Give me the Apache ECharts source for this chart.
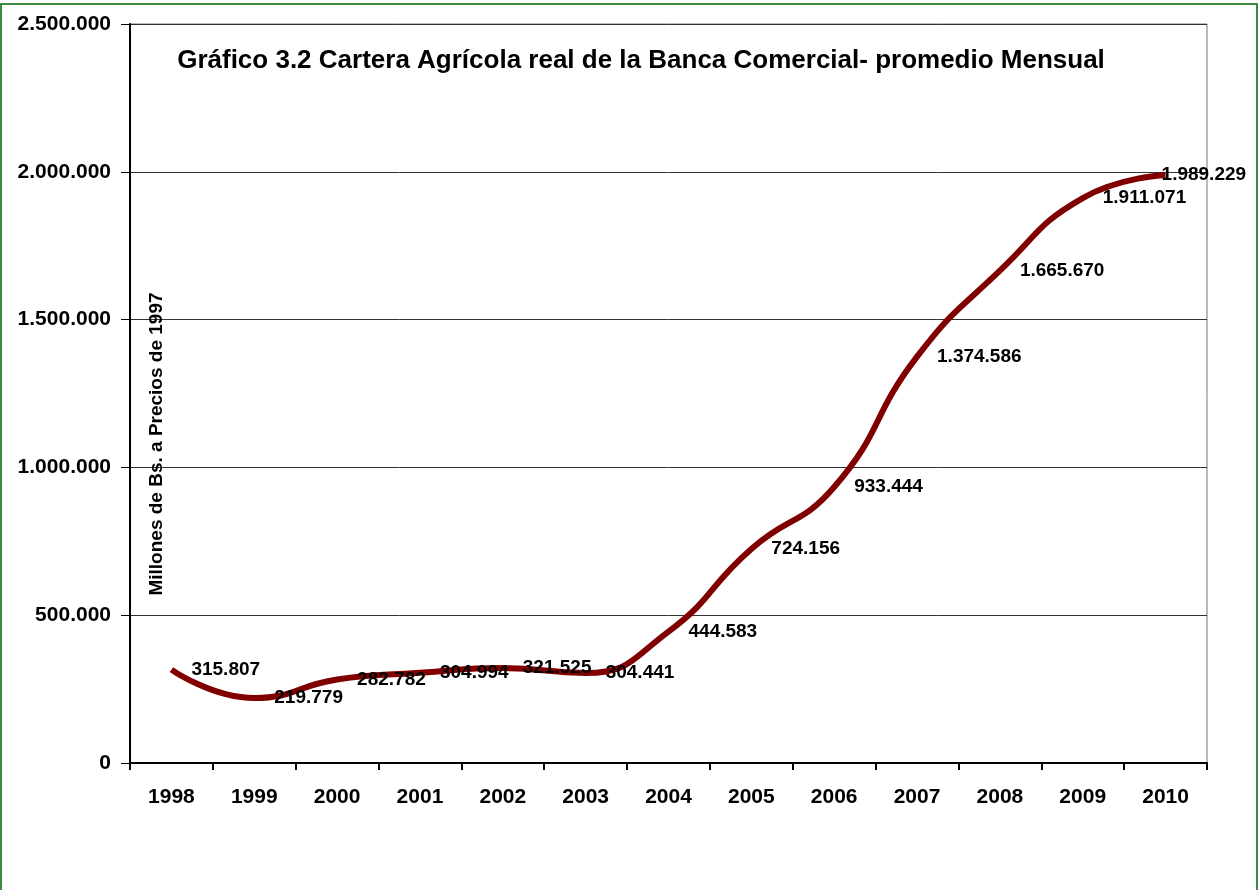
<!DOCTYPE html>
<html>
<head>
<meta charset="utf-8">
<title>Cartera Agrícola real</title>
<script src="https://cdn.jsdelivr.net/npm/echarts@6/dist/echarts.min.js"></script>
<style>
html, body { margin:0; padding:0; background:#fff; }
#chart { width:1258px; height:890px; }
</style>
</head>
<body>
<div id="chart"></div>
<script>
"use strict";
// años y cartera (miles de Bs. a precios de 1997)
var years = ['1998','1999','2000','2001','2002','2003','2004','2005','2006','2007','2008','2009','2010'];
var cartera = [315807, 219779, 282782, 304994, 321525, 304441, 444583, 724156, 933444, 1374586, 1665670, 1911071, 1989229];
var yTicks = [0, 500000, 1000000, 1500000, 2000000, 2500000];

var FONT = "'Liberation Sans', Arial, sans-serif";

function puntos(v){
	return String(v).replace(/\B(?=(\d{3})+(?!\d))/g, '.');
}

var serieData = cartera.map(function(v, i){
	var d = { value: v };
	// Excel empuja la última etiqueta dentro del área del gráfico
	if(i == cartera.length - 1) d.label = { offset: [-24, 0] };
	return d;
});

var option = {
	backgroundColor: '#fff',
	animation: false,
	grid: { left: 130, right: 51, top: 24, bottom: 127, show: true, borderColor: '#777', borderWidth: 1 },
	xAxis: [{
		type: 'category', data: years, boundaryGap: true,
		axisLine: { lineStyle: { color: '#000', width: 2 } },
		axisTick: { show: true, length: 7, alignWithLabel: false, lineStyle: { color: '#000', width: 2 } },
		axisLabel: { color: '#000', fontFamily: FONT, fontWeight: 'bold', fontSize: 21, margin: 24 },
		splitLine: { show: false }
	}],
	yAxis: [{
		type: 'value', min: yTicks[0], max: yTicks[yTicks.length-1], interval: yTicks[1] - yTicks[0],
		axisLine: { show: true, lineStyle: { color: '#000', width: 2 } },
		axisTick: { show: true, length: 9, lineStyle: { color: '#000', width: 1 } },
		axisLabel: { color: '#000', fontFamily: FONT, fontWeight: 'bold', fontSize: 21, margin: 19,
		             padding: [5, 0, 0, 0], formatter: function(v){ return puntos(v); } },
		splitLine: { show: true, lineStyle: { color: '#333', width: 1 } }
	}],
	series: [{
		name: 'Cartera Agrícola', type: 'line', data: serieData,
		smooth: 0.5, symbol: 'circle', symbolSize: 0, showSymbol: true,
		lineStyle: { color: '#800000', width: 6 },
		itemStyle: { color: '#800000' },
		label: {
			show: true, position: 'right', distance: 20, color: '#000',
			fontFamily: FONT, fontWeight: 'bold', fontSize: 19,
			formatter: function(p){ return puntos(p.value); }
		},
		emphasis: { disabled: true }
	}],
	graphic: [
		{ type: 'rect', silent: true, z: 100, shape: { x: 1, y: 4, width: 1256, height: 900 },
		  style: { fill: 'none', stroke: '#3f8a3c', lineWidth: 2 } },
		{ type: 'text', silent: true, z: 100, x: 641, y: 61,
		  style: { text: 'Gráfico 3.2 Cartera Agrícola real de la Banca Comercial- promedio Mensual',
		           fill: '#000', font: 'bold 26px ' + FONT, textAlign: 'center', textVerticalAlign: 'middle' } },
		{ type: 'text', silent: true, z: 100, x: 157, y: 444, rotation: Math.PI / 2,
		  style: { text: 'Millones de Bs. a Precios de 1997',
		           fill: '#000', font: 'bold 19px ' + FONT, textAlign: 'center', textVerticalAlign: 'middle' } }
	]
};

var myChart = echarts.init(document.getElementById('chart'));
myChart.setOption(option);
</script>
</body>
</html>
